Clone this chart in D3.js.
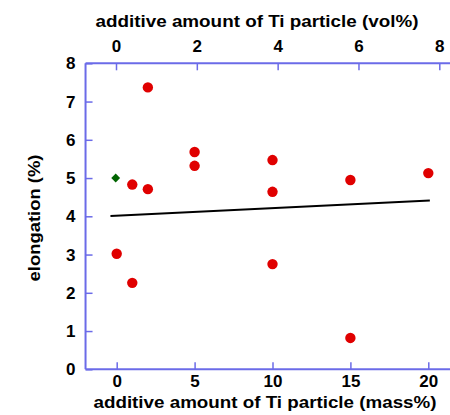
<!DOCTYPE html>
<html>
<head>
<meta charset="utf-8">
<script src="https://cdn.jsdelivr.net/npm/d3@7"></script>
<style>
  body { margin: 0; background: #fff; }
  text { font-family: "Liberation Sans", Arial, sans-serif; font-weight: bold; fill: #000; }
</style>
</head>
<body>
<div id="chart"></div>
<script>
// measured points (mass%, elongation %)
const massPct = [1, 2, 5, 5, 10, 10, 10, 0, 15, 20, 1, 15, 2];
const elong   = [4.83, 4.71, 5.68, 5.32, 5.47, 4.64, 2.75, 3.02, 4.95, 5.13, 2.26, 0.82, 7.37];
// reference sample (no Ti)
const refMass = [0];
const refElong = [5.0];
// fitted line end points
const fitX = [-0.4, 20.1];
const fitY = [4.01, 4.41];

const massTicks = [0, 5, 10, 15, 20];
const volTicks = [0, 2, 4, 6, 8];
const yTicks = [0, 1, 2, 3, 4, 5, 6, 7, 8];

const W = 450, H = 415;
const svg = d3.select("#chart").append("svg")
    .attr("width", W)
    .attr("height", H);

const x = d3.scaleLinear().domain([0, 20]).range([116.7, 428.3]);
const xVol = d3.scaleLinear().domain([0, 8]).range([116, 439.3]);
const y = d3.scaleLinear().domain([0, 8]).range([369.3, 63.3]);

const axisColor = "#6b6be8";
const leftX = x(-2), rightX = W;

// frame lines (left, top, bottom)
svg.append("line").attr("x1", leftX).attr("x2", leftX).attr("y1", y(8)).attr("y2", y(0))
    .attr("stroke", axisColor).attr("stroke-width", 2);
svg.append("line").attr("x1", leftX).attr("x2", rightX).attr("y1", y(0)).attr("y2", y(0))
    .attr("stroke", axisColor).attr("stroke-width", 2);
svg.append("line").attr("x1", leftX).attr("x2", rightX).attr("y1", y(8)).attr("y2", y(8))
    .attr("stroke", axisColor).attr("stroke-width", 2);

const bottomAx = svg.append("g").attr("transform", `translate(0,${y(0)})`)
    .call(d3.axisBottom(x).tickValues(massTicks).tickSize(-7).tickPadding(6));
const topAx = svg.append("g").attr("transform", `translate(0,${y(8)})`)
    .call(d3.axisTop(xVol).tickValues(volTicks).tickSize(-7).tickPadding(11));
const leftAx = svg.append("g").attr("transform", `translate(${leftX},0)`)
    .call(d3.axisLeft(y).tickValues(yTicks).tickSize(-7).tickPadding(10));

[bottomAx, topAx, leftAx].forEach(g => {
  g.select(".domain").remove();
  g.selectAll(".tick line").attr("stroke", axisColor).attr("stroke-width", 1.5);
  g.selectAll(".tick text").attr("font-size", 17).attr("fill", "#000")
      .attr("font-family", "'Liberation Sans', Arial, sans-serif");
});

// fit line
svg.append("line")
    .attr("x1", x(fitX[0])).attr("y1", y(fitY[0]))
    .attr("x2", x(fitX[1])).attr("y2", y(fitY[1]))
    .attr("stroke", "#000").attr("stroke-width", 2);

// data points
svg.selectAll("circle.pt")
    .data(massPct.map((m, i) => [m, elong[i]]))
    .join("circle")
    .attr("class", "pt")
    .attr("cx", d => x(d[0]))
    .attr("cy", d => y(d[1]))
    .attr("r", 5.2)
    .attr("fill", "#e00000");

svg.selectAll("path.ref")
    .data(refMass.map((m, i) => [m, refElong[i]]))
    .join("path")
    .attr("class", "ref")
    .attr("d", d3.symbol().type(d3.symbolDiamond2).size(50))
    .attr("transform", d => `translate(${x(d[0]) - 1},${y(d[1])})`)
    .attr("fill", "#006400");

// axis titles
svg.append("text").attr("x", 257).attr("y", 27).attr("text-anchor", "middle")
    .attr("font-size", 17).attr("textLength", 323).attr("lengthAdjust", "spacingAndGlyphs")
    .text("additive amount of Ti particle (vol%)");
svg.append("text").attr("x", 265).attr("y", 408).attr("text-anchor", "middle")
    .attr("font-size", 17).attr("textLength", 343).attr("lengthAdjust", "spacingAndGlyphs")
    .text("additive amount of Ti particle (mass%)");
svg.append("text").attr("transform", "translate(40,218) rotate(-90)")
    .attr("text-anchor", "middle")
    .attr("font-size", 17).attr("textLength", 127).attr("lengthAdjust", "spacingAndGlyphs")
    .text("elongation (%)");
</script>
</body>
</html>
